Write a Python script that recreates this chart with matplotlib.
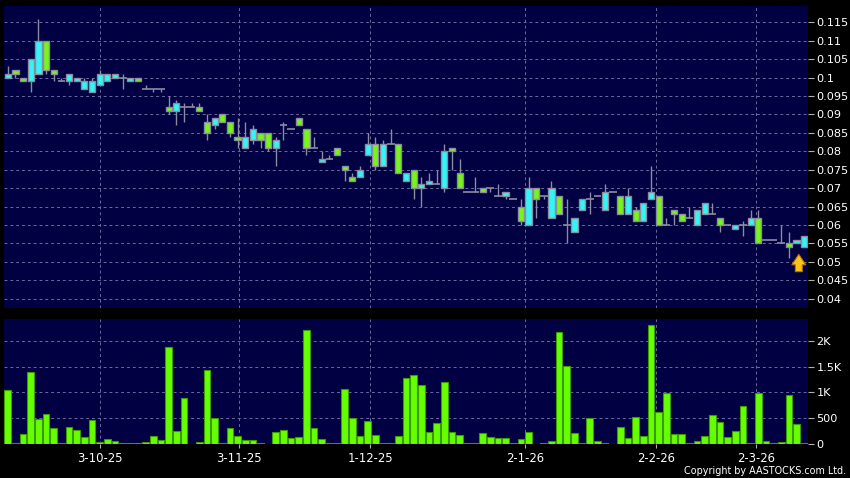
import numpy as np
import matplotlib
matplotlib.use("Agg")
import matplotlib.pyplot as plt
from matplotlib.ticker import MultipleLocator, FuncFormatter, FixedLocator

# daily OHLC (bar 1 .. 105)
opens = [0.100, 0.102, 0.100, 0.099, 0.101, 0.110, 0.102, 0.099, 0.099, 0.099,
         0.097, 0.096, 0.098, 0.099, 0.100, 0.100, 0.099, 0.100, 0.097, 0.097,
         0.097, 0.092, 0.091, 0.092, 0.092, 0.092, 0.088, 0.087, 0.090, 0.088,
         0.084, 0.081, 0.083, 0.085, 0.085, 0.081, 0.087, 0.086, 0.089, 0.086,
         0.081, 0.077, 0.078, 0.081, 0.076, 0.073, 0.073, 0.079, 0.082, 0.076,
         0.082, 0.082, 0.072, 0.075, 0.070, 0.071, 0.071, 0.070, 0.081, 0.074,
         0.069, 0.069, 0.070, 0.070, 0.068, 0.068, 0.067, 0.065, 0.060, 0.070,
         0.068, 0.062, 0.068, 0.060, 0.058, 0.064, 0.067, 0.068, 0.064, 0.069,
         0.068, 0.063, 0.064, 0.061, 0.067, 0.068, 0.060, 0.064, 0.063, 0.062,
         0.060, 0.063, 0.063, 0.062, 0.060, 0.059, 0.060, 0.060, 0.062, 0.056,
         0.056, 0.055, 0.055, 0.055, 0.054]
highs = [0.103, 0.102, 0.100, 0.105, 0.116, 0.110, 0.102, 0.100, 0.101, 0.100,
         0.100, 0.100, 0.102, 0.101, 0.101, 0.101, 0.100, 0.100, 0.098, 0.097,
         0.097, 0.095, 0.094, 0.093, 0.093, 0.093, 0.090, 0.089, 0.090, 0.088,
         0.089, 0.088, 0.087, 0.085, 0.085, 0.084, 0.088, 0.086, 0.089, 0.086,
         0.084, 0.080, 0.079, 0.081, 0.076, 0.074, 0.076, 0.085, 0.084, 0.083,
         0.086, 0.082, 0.074, 0.075, 0.073, 0.074, 0.075, 0.082, 0.081, 0.078,
         0.069, 0.073, 0.070, 0.070, 0.071, 0.069, 0.067, 0.067, 0.073, 0.070,
         0.068, 0.072, 0.068, 0.067, 0.062, 0.067, 0.069, 0.068, 0.071, 0.069,
         0.068, 0.070, 0.065, 0.066, 0.076, 0.068, 0.062, 0.064, 0.063, 0.065,
         0.064, 0.066, 0.066, 0.062, 0.060, 0.060, 0.061, 0.064, 0.064, 0.056,
         0.056, 0.060, 0.058, 0.056, 0.057]
lows = [0.100, 0.100, 0.099, 0.096, 0.101, 0.101, 0.099, 0.099, 0.098, 0.099,
        0.097, 0.096, 0.098, 0.099, 0.100, 0.097, 0.099, 0.099, 0.097, 0.096,
        0.096, 0.090, 0.087, 0.088, 0.092, 0.091, 0.083, 0.086, 0.088, 0.084,
        0.081, 0.081, 0.082, 0.081, 0.080, 0.076, 0.083, 0.086, 0.087, 0.079,
        0.081, 0.077, 0.078, 0.079, 0.072, 0.072, 0.073, 0.079, 0.075, 0.076,
        0.082, 0.074, 0.072, 0.067, 0.065, 0.071, 0.071, 0.069, 0.075, 0.070,
        0.069, 0.069, 0.069, 0.069, 0.068, 0.067, 0.067, 0.060, 0.060, 0.062,
        0.067, 0.062, 0.063, 0.055, 0.058, 0.064, 0.063, 0.068, 0.064, 0.069,
        0.063, 0.063, 0.061, 0.061, 0.067, 0.060, 0.060, 0.060, 0.061, 0.062,
        0.060, 0.063, 0.063, 0.058, 0.060, 0.059, 0.057, 0.060, 0.055, 0.056,
        0.056, 0.055, 0.051, 0.055, 0.054]
closes = [0.101, 0.101, 0.099, 0.105, 0.110, 0.102, 0.101, 0.099, 0.101, 0.100,
          0.099, 0.099, 0.101, 0.101, 0.101, 0.100, 0.100, 0.099, 0.097, 0.097,
          0.097, 0.091, 0.093, 0.092, 0.092, 0.091, 0.085, 0.089, 0.088, 0.085,
          0.083, 0.084, 0.086, 0.083, 0.081, 0.083, 0.087, 0.086, 0.087, 0.081,
          0.081, 0.078, 0.078, 0.079, 0.075, 0.072, 0.075, 0.082, 0.076, 0.082,
          0.082, 0.074, 0.074, 0.070, 0.071, 0.072, 0.071, 0.080, 0.080, 0.070,
          0.069, 0.069, 0.069, 0.070, 0.068, 0.069, 0.067, 0.061, 0.070, 0.067,
          0.068, 0.070, 0.063, 0.060, 0.062, 0.067, 0.067, 0.068, 0.069, 0.069,
          0.063, 0.068, 0.061, 0.066, 0.069, 0.060, 0.060, 0.063, 0.061, 0.062,
          0.064, 0.066, 0.063, 0.060, 0.060, 0.060, 0.060, 0.062, 0.055, 0.056,
          0.056, 0.055, 0.054, 0.056, 0.057]
volumes = [1045, 25, 200, 1390, 487, 585, 312, 25, 338, 273,
           143, 455, 45, 104, 52, 20, 20, 20, 39, 156,
           71, 1870, 260, 883, 3, 45, 1430, 506, 10, 312,
           162, 71, 78, 10, 5, 234, 279, 123, 143, 2200,
           305, 91, 20, 20, 1065, 506, 156, 448, 175, 13,
           13, 156, 1286, 1331, 1136, 240, 416, 1195, 234, 182,
           13, 20, 221, 143, 123, 123, 26, 104, 240, 6,
           26, 65, 2170, 1513, 208, 20, 494, 52, 26, 6,
           331, 117, 526, 162, 2305, 623, 980, 201, 188, 26,
           52, 156, 571, 422, 130, 260, 740, 26, 980, 65,
           26, 45, 942, 383, 20]

date_labels = ["3-10-25", "3-11-25", "1-12-25", "2-1-26", "2-2-26", "2-3-26"]
date_pos = [13.08, 31.23, 48.34, 68.58, 85.69, 98.75]

BG = "#000042"
UP = "#33F5F5"
DOWN = "#77F51A"
EDGE = "#8C8CA0"
GRID = "#6A6AA0"

fig = plt.figure(figsize=(8.5, 4.78), dpi=100, facecolor="black")
ax = fig.add_axes([4 / 850, 1 - 308 / 478, 804 / 850, 302 / 478], facecolor=BG)
axv = fig.add_axes([4 / 850, 1 - 444 / 478, 804 / 850, 125 / 478], facecolor=BG)

x = np.arange(1, len(opens) + 1)
w = 0.8

for i in range(len(x)):
    o, h, l, c = opens[i], highs[i], lows[i], closes[i]
    ax.vlines(x[i], l, h, color=EDGE, lw=1, zorder=2)
    if o == c:
        ax.hlines(o, x[i] - w / 2 - 0.1, x[i] + w / 2 + 0.1, color=EDGE, lw=1.2, zorder=3)
    else:
        col = UP if c > o else DOWN
        ax.bar(x[i], abs(c - o), bottom=min(o, c), width=w, color=col,
               edgecolor=EDGE, linewidth=1, zorder=3)

ax.annotate("", xy=(104.3, 0.0528), xytext=(104.3, 0.0466),
            arrowprops=dict(arrowstyle="simple,head_length=0.75,head_width=1.0,tail_width=0.5",
                            fc="#FFC21A", ec="#B07800", lw=0.8), zorder=5)

axv.bar(x, volumes, width=0.87, color="#66FF00", edgecolor="#3A9A00", linewidth=0.8, zorder=3)

for a in (ax, axv):
    a.set_xlim(0.5, len(x) + 0.5)
    for s in a.spines.values():
        s.set_visible(False)
    a.yaxis.tick_right()
    a.tick_params(axis="y", colors="#B0B0B0", labelcolor="white", labelsize=8.1,
                  length=4, pad=2, width=0.8)
    a.xaxis.set_major_locator(FixedLocator(date_pos))
    a.grid(True, color=GRID, ls=(0, (3, 3)), lw=0.7, zorder=0)
    a.set_axisbelow(True)

ax.set_ylim(0.0375, 0.1194)
ax.yaxis.set_major_locator(MultipleLocator(0.005))
ax.yaxis.set_major_formatter(FuncFormatter(lambda v, p: "%g" % round(v, 3)))
ax.tick_params(axis="x", length=0, labelbottom=False)

axv.set_ylim(0, 2420)
axv.yaxis.set_major_locator(MultipleLocator(500))
axv.yaxis.set_major_formatter(FuncFormatter(
    lambda v, p: "0" if v == 0 else ("%gK" % (v / 1000) if v >= 1000 else "%d" % v)))
axv.set_xticklabels(date_labels)
axv.tick_params(axis="x", colors="#B0B0B0", labelcolor="white", labelsize=8.4,
                length=3, pad=3, width=0.8)

fig.text(0.995, 1 - 471.5 / 478, "Copyright by AASTOCKS.com Ltd.", color="white",
         fontsize=6.9, ha="right", va="center")

fig.savefig("out.png", dpi=100, facecolor="black")
